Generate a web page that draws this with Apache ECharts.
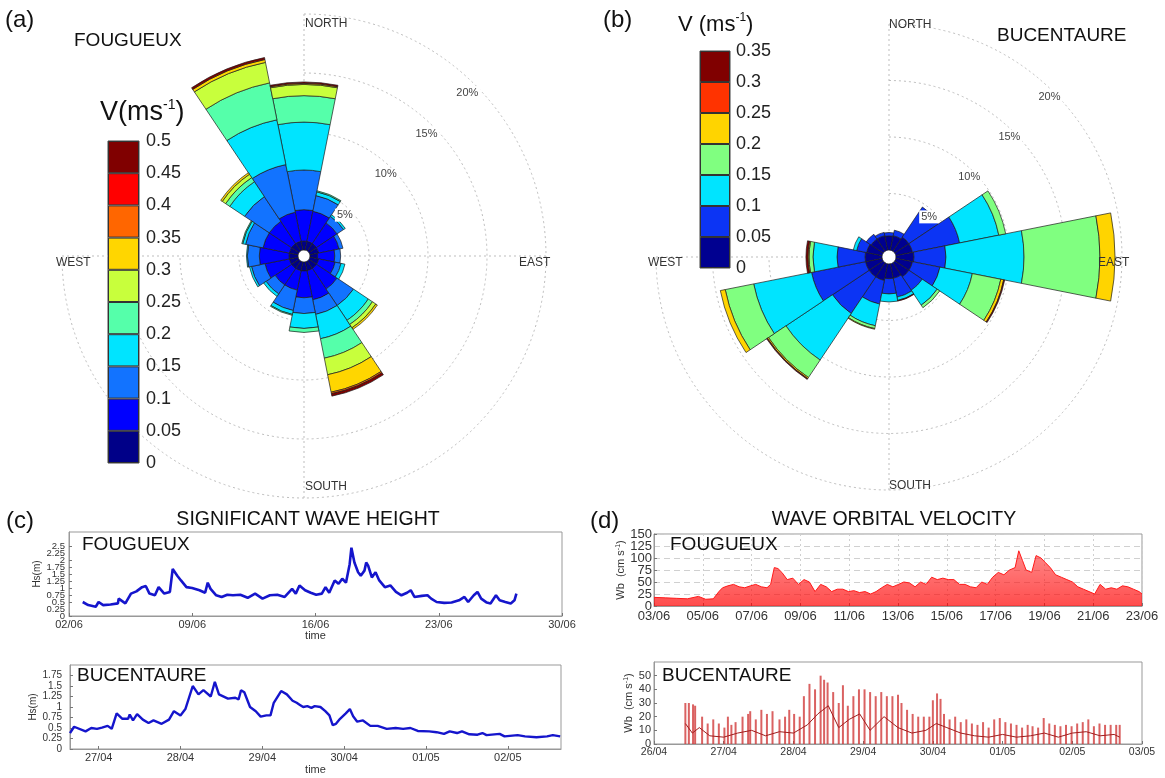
<!DOCTYPE html>
<html lang="en">
<head>
<meta charset="utf-8">
<title>Fougueux / Bucentaure currents and waves</title>
<style>html,body{margin:0;padding:0;background:#fff;}</style>
</head>
<body>
<div id="main" style="width:1165px;height:778px;"></div>
<script src="https://cdn.jsdelivr.net/npm/echarts@6/dist/echarts.min.js"></script>
<script>
// ---- data ----
var directions = ['N','NNE','NE','ENE','E','ESE','SE','SSE','S','SSW','SW','WSW','W','WNW','NW','NNW'];

// current speed class bounds (m/s)
var speedBoundsA = [0, 0.05, 0.1, 0.15, 0.2, 0.25, 0.3, 0.35, 0.4, 0.45, 0.5];
var speedBoundsB = [0, 0.05, 0.1, 0.15, 0.2, 0.25, 0.3, 0.35];

// % of time, one row per direction, one value per speed class
var roseFougueux = [
  [0.76, 2.66, 3.36, 4.06, 2.24, 0.95, 0.09, 0, 0, 0.12], // N
  [0.76, 2.60, 1.35, 0.33, 0.09],                        // NNE
  [0.76, 2.10, 0.67, 0.17],                              // NE
  [0.76, 1.76, 0.34],                                    // ENE
  [0.65, 1.45, 0.50],                                    // E
  [0.76, 1.42, 0.51, 0.34],                              // ESE
  [0.76, 2.10, 1.68, 1.51, 0.42, 0.34, 0.16],            // SE
  [0.76, 2.52, 1.26, 2.10, 1.68, 1.43, 1.51, 0.13, 0, 0.21], // SSE
  [0.76, 2.27, 1.34, 1.26, 0.34],                        // S
  [0.76, 1.68, 1.76, 0.34, 0.08],                        // SSW
  [0.76, 1.68, 0.92, 0.25],                              // SW
  [0.76, 2.10, 1.17, 0.17],                              // WSW
  [0.76, 2.52, 1.01, 0.08],                              // W
  [0.76, 2.27, 1.51, 0.25, 0.08],                        // WNW
  [0.76, 2.27, 2.52, 1.51, 0.42, 0.34, 0.16],            // NW
  [0.76, 2.52, 4.11, 3.87, 3.19, 1.77, 0.25, 0, 0, 0.17] // NNW
];
var roseBucentaure = [
  [1.25, 0.30],                               // N
  [1.30, 0.50],                               // NNE
  [1.50, 3.20],                               // NE
  [1.50, 4.25, 3.54, 0.62],                   // ENE
  [1.59, 2.83, 6.91, 6.72, 1.33],             // E
  [1.50, 2.48, 2.92, 2.57, 0.26, 0, 0.09],    // ESE
  [1.50, 1.42, 1.59, 0.27],                   // SE
  [1.30, 1.70, 0.30, 0, 0, 0, 0.06],          // SSE
  [1.30, 1.35, 0.71],                         // S
  [1.50, 2.13, 1.95, 0.26, 0.06],             // SSW
  [1.50, 3.90, 4.95, 1.86, 0.12, 0, 0.08],    // SW
  [1.50, 4.87, 5.22, 2.57, 0.44],             // WSW
  [1.50, 2.48, 2.13, 0.35, 0.09, 0, 0.18],    // W
  [1.40, 0.90, 0.30],                         // WNW
  [1.30, 0.50],                               // NW
  [1.30, 0.30]                                // NNW
];

// significant wave height [day of June, Hs m]
var hsFougueux = [[2.78,0.50],[3.09,0.39],[3.52,0.33],[3.68,0.50],[3.94,0.39],[4.36,0.41],[4.78,0.45],[4.82,0.62],[5.20,0.45],[5.52,0.80],[5.83,0.88],[6.15,1.03],[6.36,1.07],[6.57,0.80],[6.88,0.74],[7.09,1.03],[7.41,0.80],[7.73,0.86],[7.89,1.68],[7.98,1.74],[8.15,1.44],[8.36,1.27],[8.67,1.03],[8.99,1.00],[9.41,0.92],[9.73,0.83],[9.88,1.19],[10.04,0.97],[10.36,0.74],[10.67,0.68],[10.99,0.76],[11.31,0.74],[11.73,0.76],[12.15,0.65],[12.57,0.80],[12.99,0.62],[13.41,0.74],[13.83,0.76],[14.25,0.68],[14.67,0.97],[14.88,0.80],[15.09,1.09],[15.41,0.92],[15.73,0.83],[16.04,0.76],[16.36,0.80],[16.57,1.03],[16.78,0.83],[17.09,1.27],[17.31,1.15],[17.52,1.33],[17.73,1.19],[17.94,1.85],[18.04,2.44],[18.21,1.91],[18.42,1.56],[18.57,1.44],[18.78,1.62],[18.88,1.91],[18.99,1.80],[19.20,1.38],[19.41,1.56],[19.62,1.27],[19.94,1.03],[20.25,1.09],[20.57,0.86],[20.88,0.74],[21.20,0.83],[21.41,0.92],[21.62,0.68],[22.04,0.72],[22.36,0.74],[22.57,0.62],[22.88,0.50],[23.31,0.47],[23.73,0.48],[24.15,0.56],[24.46,0.68],[24.67,0.50],[24.99,0.74],[25.20,0.86],[25.41,0.62],[25.73,0.48],[25.94,0.45],[26.25,0.74],[26.46,0.56],[26.78,0.50],[27.09,0.45],[27.30,0.56],[27.41,0.80]];
// [day counted from 1 April (31 = 01/05), Hs m]
var hsBucentaure = [[26.65,0.38],[26.70,0.53],[26.84,0.42],[26.91,0.50],[26.98,0.48],[27.04,0.51],[27.11,0.55],[27.16,0.48],[27.22,0.85],[27.29,0.72],[27.36,0.72],[27.38,0.82],[27.42,0.68],[27.47,0.83],[27.54,0.70],[27.61,0.62],[27.67,0.68],[27.77,0.60],[27.86,0.70],[27.92,0.90],[28.00,0.80],[28.06,0.95],[28.15,1.50],[28.22,1.30],[28.28,1.40],[28.37,1.25],[28.42,1.60],[28.47,1.30],[28.58,1.20],[28.67,1.22],[28.71,1.18],[28.74,1.40],[28.78,1.35],[28.85,1.00],[28.92,0.90],[28.98,0.77],[29.05,0.80],[29.10,0.80],[29.14,1.10],[29.23,1.38],[29.30,1.30],[29.37,1.15],[29.42,1.10],[29.46,1.05],[29.50,1.00],[29.55,1.02],[29.60,0.98],[29.64,1.02],[29.71,1.00],[29.77,0.90],[29.82,0.80],[29.86,0.57],[29.90,0.60],[29.95,0.72],[30.02,0.85],[30.07,0.95],[30.11,0.78],[30.16,0.65],[30.23,0.68],[30.32,0.55],[30.41,0.55],[30.52,0.48],[30.63,0.50],[30.72,0.48],[30.81,0.50],[30.90,0.43],[31.04,0.42],[31.13,0.40],[31.22,0.36],[31.29,0.42],[31.38,0.38],[31.44,0.42],[31.53,0.35],[31.63,0.34],[31.69,0.38],[31.74,0.33],[31.90,0.36],[31.96,0.30],[32.12,0.33],[32.21,0.30],[32.35,0.28],[32.48,0.30],[32.55,0.33],[32.64,0.30]];

// wave orbital velocity, upper envelope [day of June, cm/s]
var wbFougueux = [[3.00,18],[3.46,17],[3.91,16],[4.37,15],[4.82,20],[5.12,14],[5.43,15],[5.66,30],[5.81,38],[6.03,42],[6.26,45],[6.49,40],[6.72,38],[6.95,42],[7.17,45],[7.40,40],[7.63,38],[7.78,45],[7.93,80],[8.08,78],[8.24,70],[8.46,55],[8.69,58],[8.92,45],[9.15,55],[9.37,50],[9.60,30],[9.83,45],[10.06,40],[10.28,30],[10.51,35],[10.74,35],[10.97,30],[11.19,32],[11.42,28],[11.65,30],[11.88,25],[12.10,30],[12.33,38],[12.56,45],[12.79,40],[13.02,45],[13.24,50],[13.47,48],[13.70,40],[13.93,50],[14.15,45],[14.38,60],[14.61,55],[14.84,58],[15.06,55],[15.29,55],[15.52,45],[15.75,45],[15.97,40],[16.20,38],[16.43,50],[16.66,45],[16.88,60],[17.11,70],[17.34,65],[17.57,75],[17.80,80],[17.95,115],[18.10,95],[18.25,75],[18.48,70],[18.66,105],[18.86,100],[19.05,90],[19.24,80],[19.46,65],[19.69,60],[19.92,55],[20.15,50],[20.37,40],[20.60,35],[20.83,30],[21.06,25],[21.28,45],[21.51,35],[21.74,38],[21.97,35],[22.20,42],[22.42,40],[22.65,35],[22.88,30],[23.00,25]];
// burst peaks [day from 1 April, cm/s]
var wbBucentaure = [[26.45,30],[26.50,30],[26.56,29],[26.59,28],[26.69,20],[26.77,15],[26.85,18],[26.93,15],[27.01,12],[27.06,20],[27.11,14],[27.17,16],[27.27,20],[27.35,22],[27.38,24],[27.46,18],[27.54,25],[27.62,22],[27.70,24],[27.80,18],[27.88,20],[27.94,25],[28.01,22],[28.09,20],[28.15,35],[28.23,44],[28.31,40],[28.39,50],[28.44,47],[28.49,45],[28.57,38],[28.65,30],[28.71,43],[28.78,28],[28.86,35],[28.94,40],[29.02,40],[29.10,38],[29.18,35],[29.26,38],[29.34,35],[29.42,35],[29.50,36],[29.55,30],[29.63,25],[29.71,22],[29.79,20],[29.87,20],[29.95,20],[30.00,32],[30.06,37],[30.11,33],[30.16,22],[30.24,18],[30.32,20],[30.40,16],[30.48,18],[30.56,15],[30.64,14],[30.72,16],[30.80,12],[30.88,18],[30.96,19],[31.04,16],[31.12,15],[31.20,14],[31.28,12],[31.36,14],[31.43,13],[31.51,12],[31.59,19],[31.67,15],[31.75,14],[31.83,13],[31.91,14],[31.99,13],[32.07,15],[32.15,16],[32.23,18],[32.31,13],[32.39,15],[32.47,14],[32.55,14],[32.63,14],[32.68,14]];
var wbBucentaureMean = [[26.45,15],[26.55,8],[26.65,12],[26.80,6],[27.00,5],[27.20,8],[27.40,10],[27.60,6],[27.80,9],[28.00,8],[28.20,14],[28.35,22],[28.50,28],[28.65,12],[28.80,18],[28.95,22],[29.10,10],[29.30,20],[29.50,12],[29.70,8],[29.90,10],[30.05,15],[30.20,12],[30.40,8],[30.60,6],[30.80,5],[31.00,7],[31.20,5],[31.40,6],[31.60,8],[31.80,5],[32.00,8],[32.20,9],[32.40,6],[32.60,7],[32.68,5]];

// axis tick labels
var hsTicksF = [0, 0.25, 0.5, 0.75, 1, 1.25, 1.5, 1.75, 2, 2.25, 2.5];
var hsTicksB = [0, 0.25, 0.5, 0.75, 1, 1.25, 1.5, 1.75];
var dayTicksHsB = [27, 28, 29, 30, 31, 32];
var wbTicksF = [0, 25, 50, 75, 100, 125, 150];
var wbTicksB = [0, 10, 20, 30, 40, 50];

// ---- styles ----
var FONT = '"Liberation Sans", Arial, sans-serif';
var colorsA = ['#000088', '#0000ff', '#1273ff', '#00e4ff', '#55ffaa', '#c8ff3c', '#ffd600', '#ff6600', '#ff0000', '#800000'];
var colorsB = ['#000090', '#0c34f4', '#00e4ff', '#80ff80', '#ffd400', '#ff3300', '#800000'];
var gridGray = '#bdbdbd';

var roseA = { center: [304, 256], radius: [6, 242], labelRadius: [0, 231] };
var roseB = { center: [889, 257], radius: [7, 233], labelRadius: [0, 227] };

function pad2(n) { return (n < 10 ? '0' : '') + n; }
function juneLabel(v) { return pad2(v) + '/06'; }
function aprMayLabel(v) { return v <= 30 ? pad2(v) + '/04' : pad2(v - 30) + '/05'; }
// labels right next to the end ones, which the axis drops when they overlap
function nextToEnds(ticks) { return [ticks[1], ticks[ticks.length - 2]]; }

var myChart = echarts.init(document.getElementById('main'));

var polar = [], angleAxis = [], radiusAxis = [], series = [], titles = [];

// three stacked polar systems per rose: grid, bars, % labels
function addRose(r, rows, colors, stackName) {
  var base = polar.length;
  polar.push({ center: r.center, radius: r.radius });
  polar.push({ center: r.center, radius: r.radius });
  polar.push({ center: r.center, radius: r.labelRadius });

  angleAxis.push({
    polarIndex: base, type: 'category', data: ['N', 'E', 'S', 'W'], boundaryGap: false, startAngle: 90,
    axisLine: { show: false }, axisTick: { show: false }, axisLabel: { show: false },
    splitLine: { show: true, lineStyle: { color: gridGray, type: [2, 3], width: 1 } }
  });
  radiusAxis.push({
    polarIndex: base, type: 'value', min: 0, max: 20, interval: 5,
    axisLine: { show: false }, axisTick: { show: false }, axisLabel: { show: false },
    splitLine: { show: true, lineStyle: { color: gridGray, type: [2, 3], width: 1 } }
  });

  angleAxis.push({ polarIndex: base + 1, type: 'category', data: directions, startAngle: 90 + 360 / directions.length / 2, show: false });
  radiusAxis.push({ polarIndex: base + 1, type: 'value', min: 0, max: 20, show: false });

  angleAxis.push({ polarIndex: base + 2, type: 'value', min: 0, max: 360, startAngle: 45, show: false });
  radiusAxis.push({
    polarIndex: base + 2, type: 'value', min: 0, max: 20, interval: 5, z: 10,
    axisLine: { show: false }, axisTick: { show: false }, splitLine: { show: false },
    axisLabel: {
      margin: 0, align: 'center', verticalAlign: 'middle', fontSize: 11, color: '#444', fontFamily: FONT,
      backgroundColor: '#fff', padding: [1, 2],
      formatter: function (v) { return v ? v + '%' : ''; }
    }
  });

  colors.forEach(function (c, k) {
    series.push({
      type: 'bar', coordinateSystem: 'polar', polarIndex: base + 1, stack: stackName,
      barCategoryGap: '0%', silent: true,
      data: rows.map(function (row) { return row[k] ? row[k] : null; }),
      itemStyle: { color: c, borderColor: '#1c1c1c', borderWidth: 0.7 }
    });
  });
}

addRose(roseA, roseFougueux, colorsA, 'roseA');
addRose(roseB, roseBucentaure, colorsB, 'roseB');

function addText(text, x, y, size, extra) {
  var t = {
    text: text, left: x, top: y, padding: 0,
    textStyle: { fontSize: size, fontWeight: 'normal', color: '#111', fontFamily: FONT }
  };
  if (extra) {
    for (var k in extra) {
      if (k === 'textStyle') { for (var s in extra.textStyle) t.textStyle[s] = extra.textStyle[s]; }
      else t[k] = extra[k];
    }
  }
  titles.push(t);
}

var supRich = { sup: { fontSize: 14, verticalAlign: 'top', lineHeight: 30 } };

// rose texts
addText('(a)', 5, 8, 24);
addText('FOUGUEUX', 74, 31, 19);
addText('V(ms{sup|-1})', 100, 98, 27, { textStyle: { rich: supRich, lineHeight: 30 } });
addText('NORTH', 305, 18, 12, { textStyle: { color: '#333' } });
addText('SOUTH', 305, 481, 12, { textStyle: { color: '#333' } });
addText('EAST', 519, 257, 12, { textStyle: { color: '#333' } });
addText('WEST', 56, 257, 12, { textStyle: { color: '#333' } });

addText('(b)', 603, 8, 24);
addText('BUCENTAURE', 997, 26, 19);
addText('V (ms{sup|-1})', 678, 12, 22, { textStyle: { rich: { sup: { fontSize: 12, verticalAlign: 'top', lineHeight: 26 } }, lineHeight: 26 } });
addText('NORTH', 889, 19, 12, { textStyle: { color: '#333' } });
addText('SOUTH', 889, 480, 12, { textStyle: { color: '#333' } });
addText('EAST', 1098, 257, 12, { textStyle: { color: '#333' } });
addText('WEST', 648, 257, 12, { textStyle: { color: '#333' } });

// time series texts
addText('(c)', 6, 509, 24);
addText('SIGNIFICANT WAVE HEIGHT', 308, 510, 19.5, { textAlign: 'center' });
addText('FOUGUEUX', 82, 535, 19);
addText('BUCENTAURE', 77, 666, 19);
addText('(d)', 590, 509, 24);
addText('WAVE ORBITAL VELOCITY', 894, 510, 19.5, { textAlign: 'center' });
addText('FOUGUEUX', 670, 535, 19);
addText('BUCENTAURE', 662, 666, 19);

// ---- cartesian grids: 0,1 colour bars; 2,3 Hs; 4,5 Wb ----
var grid = [
  { left: 108, top: 141, width: 31, height: 322, show: true, borderColor: '#444', borderWidth: 1 },
  { left: 700, top: 51, width: 30, height: 217, show: true, borderColor: '#444', borderWidth: 1 },
  { left: 69, top: 532, width: 493, height: 84, show: true, borderColor: '#999', borderWidth: 1 },
  { left: 70, top: 665, width: 491, height: 84, show: true, borderColor: '#999', borderWidth: 1 },
  { left: 654, top: 534, width: 488, height: 72, show: true, borderColor: '#999', borderWidth: 1 },
  { left: 654, top: 662, width: 488, height: 82, show: true, borderColor: '#999', borderWidth: 1 }
];

var tickIn = { show: true, inside: true, length: 3, lineStyle: { color: '#777' } };
var lineAx = { show: true, lineStyle: { color: '#999' } };
function lab(size, margin, extra) {
  var o = { fontSize: size, color: '#333', fontFamily: FONT, margin: margin, showMinLabel: true, showMaxLabel: true, hideOverlap: false };
  for (var k in extra || {}) o[k] = extra[k];
  return o;
}
var wbName = { fontSize: 11, color: '#333', fontFamily: FONT, rich: { sup: { fontSize: 7, verticalAlign: 'top' } } };

var xAxis = [
  { gridIndex: 0, type: 'category', data: [''], show: false },
  { gridIndex: 1, type: 'category', data: [''], show: false },
  { gridIndex: 2, type: 'value', min: 2, max: 30, interval: 7, axisLine: lineAx, axisTick: tickIn, splitLine: { show: false },
    axisLabel: lab(11, 3, { formatter: juneLabel }),
    name: 'time', nameLocation: 'middle', nameGap: 14, nameTextStyle: { fontSize: 11, color: '#333', fontFamily: FONT } },
  { gridIndex: 3, type: 'value', min: 26.65, max: 32.65, axisLine: lineAx, splitLine: { show: false },
    axisTick: { show: true, inside: true, length: 3, lineStyle: { color: '#777' }, customValues: dayTicksHsB },
    axisLabel: lab(11, 3, { formatter: aprMayLabel, customValues: dayTicksHsB }),
    name: 'time', nameLocation: 'middle', nameGap: 15, nameTextStyle: { fontSize: 11, color: '#333', fontFamily: FONT } },
  { gridIndex: 4, type: 'value', min: 3, max: 23, interval: 2, axisLine: lineAx, axisTick: tickIn,
    splitLine: { show: true, lineStyle: { color: '#d0d0d0', type: [2, 3] } },
    axisLabel: lab(13, 4, { formatter: juneLabel }) },
  { gridIndex: 5, type: 'value', min: 26, max: 33, interval: 1, axisLine: lineAx, axisTick: tickIn, splitLine: { show: false },
    axisLabel: lab(10.5, 3, { formatter: aprMayLabel }) }
];

var yAxis = [
  { gridIndex: 0, type: 'value', min: 0, max: 0.5, interval: 0.05, position: 'right',
    axisLine: { show: false }, axisTick: { show: false }, splitLine: { show: false },
    axisLabel: lab(18, 7, { color: '#222' }) },
  { gridIndex: 1, type: 'value', min: 0, max: 0.35, interval: 0.05, position: 'right',
    axisLine: { show: false }, axisTick: { show: false }, splitLine: { show: false },
    axisLabel: lab(18, 6, { color: '#222' }) },
  { gridIndex: 2, type: 'value', min: 0, max: 3, position: 'left', axisLine: lineAx, splitLine: { show: false },
    axisTick: { show: true, inside: true, length: 3, lineStyle: { color: '#777' }, customValues: hsTicksF },
    axisLabel: lab(9.5, 4, { customValues: hsTicksF }),
    name: 'Hs(m)', nameLocation: 'middle', nameGap: 26, nameTextStyle: { fontSize: 10, color: '#333', fontFamily: FONT } },
  { gridIndex: 3, type: 'value', min: 0, max: 2, position: 'left', axisLine: lineAx, splitLine: { show: false },
    axisTick: { show: true, inside: true, length: 3, lineStyle: { color: '#777' }, customValues: hsTicksB },
    axisLabel: lab(10, 8, { customValues: hsTicksB }),
    name: 'Hs(m)', nameLocation: 'middle', nameGap: 28, nameTextStyle: { fontSize: 10, color: '#333', fontFamily: FONT } },
  { gridIndex: 4, type: 'value', min: 0, max: 150, position: 'left', axisLine: lineAx,
    axisTick: { show: true, inside: true, length: 3, lineStyle: { color: '#777' }, customValues: wbTicksF },
    splitLine: { show: true, lineStyle: { color: '#d0d0d0', type: [6, 4] } },
    axisLabel: lab(13, 2, { customValues: wbTicksF }),
    name: 'Wb  (cm s{sup|-1})', nameLocation: 'middle', nameGap: 28, nameTextStyle: wbName },
  { gridIndex: 5, type: 'value', min: 0, max: 60, position: 'left', axisLine: lineAx, splitLine: { show: false },
    axisTick: { show: true, inside: true, length: 3, lineStyle: { color: '#777' }, customValues: wbTicksB },
    axisLabel: lab(11, 3, { customValues: wbTicksB }),
    name: 'Wb  (cm s{sup|-1})', nameLocation: 'middle', nameGap: 20, nameTextStyle: wbName },
  // overlay axes on the same left edge carrying the crowded labels beside the end ones
  { gridIndex: 2, type: 'value', min: 0, max: 3, position: 'left', offset: 0,
    axisLine: { show: false }, axisTick: { show: false }, splitLine: { show: false },
    axisLabel: lab(9.5, 4, { customValues: nextToEnds(hsTicksF) }) },
  { gridIndex: 4, type: 'value', min: 0, max: 150, position: 'left', offset: 0,
    axisLine: { show: false }, axisTick: { show: false }, splitLine: { show: false },
    axisLabel: lab(13, 2, { customValues: nextToEnds(wbTicksF) }) }
];

// colour bars as stacked class blocks
function addColorbar(bounds, colors, gridIdx) {
  colors.forEach(function (c, k) {
    series.push({
      type: 'bar', xAxisIndex: gridIdx, yAxisIndex: gridIdx, stack: 'cb' + gridIdx, barWidth: '100%', silent: true,
      data: [+(bounds[k + 1] - bounds[k]).toFixed(3)],
      itemStyle: { color: c, borderColor: '#333', borderWidth: 1 }
    });
  });
}
addColorbar(speedBoundsA, colorsA, 0);
addColorbar(speedBoundsB, colorsB, 1);

series.push({ type: 'line', xAxisIndex: 2, yAxisIndex: 2, data: hsFougueux, showSymbol: false, silent: true,
  lineStyle: { color: '#1515cc', width: 2.6 } });
series.push({ type: 'line', xAxisIndex: 3, yAxisIndex: 3, data: hsBucentaure, showSymbol: false, silent: true,
  lineStyle: { color: '#1515cc', width: 2.4 } });
series.push({ type: 'line', xAxisIndex: 4, yAxisIndex: 4, data: wbFougueux, showSymbol: false, silent: true,
  lineStyle: { color: '#ff1a1a', width: 1 },
  areaStyle: { color: new echarts.graphic.LinearGradient(0, 0, 0, 1, [
    { offset: 0, color: 'rgba(255,40,40,0.8)' }, { offset: 1, color: 'rgba(255,0,0,1)' }]) } });
series.push({ type: 'bar', xAxisIndex: 5, yAxisIndex: 5, data: wbBucentaure, barWidth: 2, silent: true,
  itemStyle: { color: 'rgba(205,45,45,0.75)' } });
series.push({ type: 'line', xAxisIndex: 5, yAxisIndex: 5, data: wbBucentaureMean, showSymbol: false, silent: true,
  lineStyle: { color: '#a01c1c', width: 1 } });

var option = {
  animation: false,
  backgroundColor: '#fff',
  textStyle: { fontFamily: FONT },
  title: titles,
  polar: polar,
  angleAxis: angleAxis,
  radiusAxis: radiusAxis,
  grid: grid,
  xAxis: xAxis,
  yAxis: yAxis,
  series: series
};
myChart.setOption(option);
</script>
</body>
</html>
